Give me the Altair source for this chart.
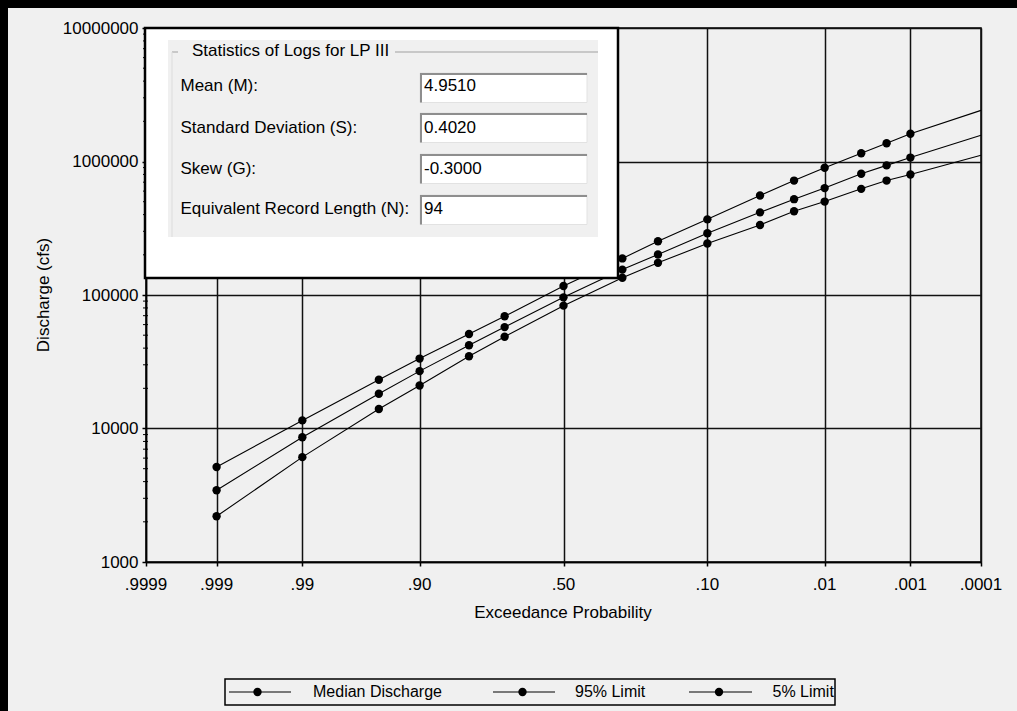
import altair as alt
import pandas as pd
from statistics import NormalDist

# ---------------------------------------------------------------------------
# Frequency curve data (LP III, discharge in cfs)
# ---------------------------------------------------------------------------
probs = [0.999, 0.99, 0.95, 0.90, 0.80, 0.70, 0.50, 0.30, 0.20, 0.10,
         0.04, 0.02, 0.01, 0.004, 0.002, 0.001]
# the curves run on (without markers) to the right edge of the paper
end_prob = 0.0001

median_q = [3450, 8600, 18200, 26900, 42000, 57500, 96000, 155000, 201000, 290000,
            416000, 522000, 632000, 810000, 935000, 1070000]
median_end = 1570000

upper_q = [5150, 11500, 23200, 33400, 51000, 69300, 116700, 187900, 252800, 368800,
           556000, 719600, 897000, 1154000, 1371000, 1614000]
upper_end = 2416000

lower_q = [2200, 6100, 14000, 21000, 34800, 48700, 83200, 134700, 174200, 243200,
           334700, 423600, 501000, 624000, 719600, 799000]
lower_end = 1115000

series_names = ["Median Discharge", "95% Limit", "5% Limit"]

# probability-paper ticks
xtick_probs = [0.9999, 0.999, 0.99, 0.90, 0.50, 0.10, 0.01, 0.001, 0.0001]
xtick_labels = [".9999", ".999", ".99", ".90", ".50", ".10", ".01", ".001", ".0001"]
ytick_values = [1000, 10000, 100000, 1000000, 10000000]
minor_mults = [2, 3, 4, 5, 6, 7, 8, 9]

# statistics panel
stat_labels = ["Mean (M):", "Standard Deviation (S):", "Skew (G):",
               "Equivalent Record Length (N):"]
stat_values = ["4.9510", "0.4020", "-0.3000", "94"]
panel_title = "Statistics of Logs for LP III"

FONT = "Liberation Sans"
FS = 17
LEGEND_FS = 16
BG = "#F0F0F0"


def zscore(p):
    """Normal-probability paper coordinate for an exceedance probability."""
    return NormalDist().inv_cdf(1.0 - p)


# ---------------------------------------------------------------------------
# Tables
# ---------------------------------------------------------------------------
curves = {
    "Median Discharge": (median_q, median_end),
    "95% Limit": (lower_q, lower_end),
    "5% Limit": (upper_q, upper_end),
}
line_rows, point_rows = [], []
for name in series_names:
    vals, tail = curves[name]
    for p, q in zip(probs, vals):
        point_rows.append({"series": name, "p": p, "z": zscore(p), "q": q})
        line_rows.append({"series": name, "p": p, "z": zscore(p), "q": q})
    line_rows.append({"series": name, "p": end_prob, "z": zscore(end_prob), "q": tail})
line_df = pd.DataFrame(line_rows)
point_df = pd.DataFrame(point_rows)

xtick_df = pd.DataFrame({"z": [zscore(p) for p in xtick_probs], "label": xtick_labels})
minor_df = pd.DataFrame({"v": [m * 10 ** k for k in range(3, 7) for m in minor_mults]})

z_lo, z_hi = zscore(0.9999), zscore(0.0001)
xs = alt.Scale(domain=[z_lo, z_hi], nice=False, zero=False)
ys = alt.Scale(type="log", domain=[1000, 10000000], nice=False)

W, H = 835, 534
PAD = {"left": 146, "top": 28, "right": 36, "bottom": 149}

dummy = pd.DataFrame({"_": [0]})


def txt(s, x, y, size=FS, align="left", angle=None):
    kw = dict(text=s, align=align, baseline="middle", fontSize=size, font=FONT, color="#000")
    if angle is not None:
        kw["angle"] = angle
    return alt.Chart(dummy).mark_text(**kw).encode(x=alt.value(x), y=alt.value(y))


def box(x0, x1, y0, y1, fill, stroke=None, sw=1.0):
    kw = dict(fill=fill)
    if stroke is not None:
        kw["stroke"] = stroke
        kw["strokeWidth"] = sw
    else:
        kw["strokeWidth"] = 0
    return alt.Chart(dummy).mark_rect(**kw).encode(
        x=alt.value(x0), x2=alt.value(x1), y=alt.value(y0), y2=alt.value(y1))


def hline(x0, x1, y, color, w=1.0):
    return alt.Chart(dummy).mark_rule(color=color, strokeWidth=w).encode(
        x=alt.value(x0), x2=alt.value(x1), y=alt.value(y))


def vline(x, y0, y1, color, w=1.0):
    return alt.Chart(dummy).mark_rule(color=color, strokeWidth=w).encode(
        x=alt.value(x), y=alt.value(y0), y2=alt.value(y1))


def dot(x, y):
    return alt.Chart(dummy).mark_point(filled=True, shape="circle", size=70,
                                       color="#000", opacity=1).encode(
        x=alt.value(x), y=alt.value(y))


# ---------------------------------------------------------------------------
# Curves on probability paper
# ---------------------------------------------------------------------------
lines = alt.Chart(line_df).mark_line(color="#000", strokeWidth=1.1).encode(
    x=alt.X("z:Q", scale=xs,
            axis=alt.Axis(values=[zscore(p) for p in xtick_probs], labels=False,
                          title=None, grid=True, ticks=True, tickSize=4)),
    y=alt.Y("q:Q", scale=ys,
            axis=alt.Axis(values=ytick_values, format="d", title=None, grid=True,
                          ticks=True, tickSize=4, labelPadding=4, labelOverlap=False)),
    detail="series:N",
    order="z:Q",
)

points = alt.Chart(point_df).mark_point(filled=True, shape="circle", size=70,
                                        color="#000", opacity=1).encode(
    x=alt.X("z:Q", scale=xs),
    y=alt.Y("q:Q", scale=ys),
)

minor_ticks = alt.Chart(minor_df).mark_rule(color="#000", strokeWidth=1).encode(
    y=alt.Y("v:Q", scale=ys), x=alt.value(-3), x2=alt.value(2))

xtick_text = alt.Chart(xtick_df).mark_text(
    font=FONT, fontSize=FS, color="#000", baseline="middle", align="center").encode(
    x=alt.X("z:Q", scale=xs), y=alt.value(557), text="label:N")

titles = [
    txt("Exceedance Probability", 417, 585, align="center"),
    txt("Discharge (cfs)", -102, 267, align="center", angle=270),
]

# ---------------------------------------------------------------------------
# Statistics panel over the upper-left of the plot
# ---------------------------------------------------------------------------
panel = [
    box(-1, 472, 0, 250, "#FFFFFF", stroke="#000", sw=2.5),
    box(22, 452, 12, 209, BG),
    hline(26, 32, 24, "#A0A0A0", 1),
    hline(249, 452, 24, "#A0A0A0", 1),
    vline(26, 24, 209, "#DCDCDC", 1),
    txt(panel_title, 46, 23),
]
row_y = [58, 99.5, 141, 181]
box_top = [45, 85, 126, 167]
for lab, val, ry, bt in zip(stat_labels, stat_values, row_y, box_top):
    panel += [
        box(274, 441, bt, bt + 29.5, "#FFFFFF", stroke="#E2E2E2", sw=1),
        hline(274, 441, bt + 1, "#8E8E8E", 2),
        vline(275, bt, bt + 29.5, "#8E8E8E", 2),
        txt(lab, 34.5, ry),
        txt(val, 278, ry),
    ]

# ---------------------------------------------------------------------------
# Legend strip
# ---------------------------------------------------------------------------
LY = 664
legend = [box(79, 689, 651, 677, BG, stroke="#000", sw=1.5)]
for name, (lx0, lx1, mx, tx) in zip(series_names,
                                    [(83, 145, 111.5, 167),
                                     (347, 409, 376.5, 429),
                                     (543, 606, 573, 626.5)]):
    legend += [hline(lx0, lx1, LY, "#000", 1.2), dot(mx, LY),
               txt(name, tx, LY, size=LEGEND_FS)]

# dark window edges along the top and left
edges = [
    box(-146, 871, -28, -20, "#000"),
    box(-146, -138, -28, 683, "#000"),
]

chart = alt.layer(
    lines, points, minor_ticks, xtick_text, *titles, *panel, *legend, *edges
).properties(
    width=W, height=H, padding=PAD,
    autosize=alt.AutoSizeParams(type="none"),
    background=BG,
).configure_view(
    stroke="#000", strokeWidth=1.5, fill=BG,
).configure_axis(
    gridColor="#111", gridWidth=1.5, gridOpacity=1,
    domainColor="#000", domainWidth=1.5,
    tickColor="#000", tickWidth=1.5,
    labelFont=FONT, labelFontSize=FS, labelColor="#000",
)

chart.save("out.html", embed_options={"renderer": "svg", "actions": False})
